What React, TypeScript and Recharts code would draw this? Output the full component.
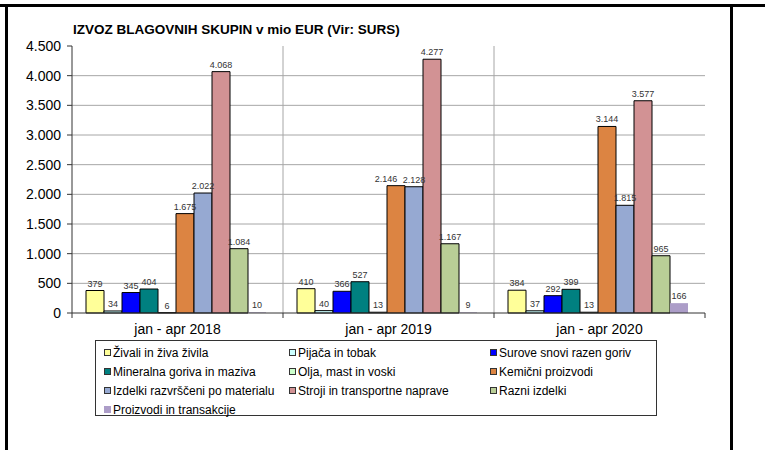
import React from 'react';
import { BarChart, Bar, XAxis, YAxis, CartesianGrid, Legend, LabelList } from 'recharts';

const categories = ['jan - apr 2018', 'jan - apr 2019', 'jan - apr 2020'];
const zivali = [379, 410, 384];
const pijaca = [34, 40, 37];
const surove = [345, 366, 292];
const mineralna = [404, 527, 399];
const olja = [6, 13, 13];
const kemicni = [1675, 2146, 3144];
const izdelki = [2022, 2128, 1815];
const stroji = [4068, 4277, 3577];
const razni = [1084, 1167, 965];
const proizvodi = [10, 9, 166];
const yTicks = [0, 500, 1000, 1500, 2000, 2500, 3000, 3500, 4000, 4500];
const gridValues = [500, 1000, 1500, 2000, 2500, 3000, 3500, 4000];

const seriesNames = [
  'Živali in živa živila',
  'Pijača in tobak',
  'Surove snovi razen goriv',
  'Mineralna goriva in maziva',
  'Olja, mast in voski',
  'Kemični proizvodi',
  'Izdelki razvrščeni po materialu',
  'Stroji in transportne naprave',
  'Razni izdelki',
  'Proizvodi in transakcije',
];
const seriesKeys = ['zivali', 'pijaca', 'surove', 'mineralna', 'olja', 'kemicni', 'izdelki', 'stroji', 'razni', 'proizvodi'];
const seriesValues = [zivali, pijaca, surove, mineralna, olja, kemicni, izdelki, stroji, razni, proizvodi];
const seriesColors = ['#FFFF99', '#CCFFFF', '#0000FF', '#008080', '#CCFFCC', '#DC8442', '#96A9D2', '#D29294', '#B9CE96', '#AC9DC8'];

const data = categories.map((cat, i) => {
  const row: any = { cat };
  seriesKeys.forEach((k, j) => { row[k] = seriesValues[j][i]; });
  return row;
});

const FONT = '"Liberation Sans", Arial, sans-serif';
const fmt = (v: any) => String(v).replace(/\B(?=(\d{3})+(?!\d))/g, '.');

// Label renderer: when a wide label would collide with the next series' label
// at nearly the same height, nudge it left (as the original chart does).
const makeLabel = (j: number) => (props: any) => {
  const { x, y, width, value, index } = props;
  let dx = 0;
  const next = seriesValues[j + 1];
  if (next && value >= 1000 && next[index] >= 1000 && Math.abs(next[index] - value) < 150) dx = -10;
  return (
    <text
      x={Number(x) + Number(width) / 2 + dx}
      y={Number(y) - 4}
      textAnchor="middle"
      fontSize={9}
      fill="#333"
      fontFamily={FONT}
    >
      {fmt(value)}
    </text>
  );
};

const CatTick = (props: any) => {
  const { x, y, payload, index } = props;
  const off = payload && typeof payload.offset === 'number' ? payload.offset : 0;
  const axisY = y - 5;
  return (
    <g>
      <line x1={x - off} x2={x - off} y1={axisY} y2={axisY + 5} stroke="#333" />
      {index === categories.length - 1 && (
        <line x1={x + off} x2={x + off} y1={axisY} y2={axisY + 5} stroke="#333" />
      )}
      <text x={x} y={axisY + 21} textAnchor="middle" fontSize={14} fill="#000" fontFamily={FONT}>
        {payload.value}
      </text>
    </g>
  );
};

const colLeft = [8, 193, 394];
const LegendContent = (props: any) => {
  const payload = [...(props.payload || [])].sort(
    (a: any, b: any) => seriesNames.indexOf(a.value) - seriesNames.indexOf(b.value)
  );
  return (
    <div style={{ position: 'relative', width: '100%', height: '100%' }}>
      {payload.map((p: any, i: number) => {
        const col = i % 3;
        const row = Math.floor(i / 3);
        const last = i === payload.length - 1;
        return (
          <div
            key={i}
            style={{
              position: 'absolute',
              left: colLeft[col],
              top: 2 + row * 19,
              height: 19,
              display: 'flex',
              alignItems: 'center',
              whiteSpace: 'nowrap',
              fontSize: 12,
              fontFamily: FONT,
              color: '#000',
            }}
          >
            <span
              style={{
                display: 'inline-block',
                width: 7,
                height: 7,
                boxSizing: 'border-box',
                background: p.color,
                border: last ? 'none' : '1px solid #333',
                marginRight: 2,
              }}
            />
            <span>{p.value}</span>
          </div>
        );
      })}
    </div>
  );
};

export default function App() {
  return (
    <div style={{ position: 'absolute', left: 0, top: 0, width: 765, height: 450, background: '#fff', fontFamily: FONT }}>
      <div style={{ position: 'absolute', left: 0, top: 4, width: 765, height: 3, background: '#000' }} />
      <div style={{ position: 'absolute', left: 5, top: 4, width: 3, height: 446, background: '#000' }} />
      <div style={{ position: 'absolute', left: 730, top: 4, width: 3, height: 446, background: '#000' }} />
      <div style={{ position: 'absolute', left: 73, top: 22, fontSize: 13.5, fontWeight: 'bold', color: '#000', fontFamily: FONT, whiteSpace: 'nowrap' }}>
        IZVOZ BLAGOVNIH SKUPIN v mio EUR (Vir: SURS)
      </div>
      <div style={{ position: 'absolute', left: 0, top: 0 }}>
        <BarChart
          width={765}
          height={450}
          data={data}
          margin={{ top: 46, right: 60, left: 0, bottom: 107 }}
          barCategoryGap={14}
          barGap={0}
        >
          <CartesianGrid
            stroke="#A6A6A6"
            horizontalValues={gridValues}
            verticalCoordinatesGenerator={({ offset }: any) => [offset.left + offset.width / 3, offset.left + (2 * offset.width) / 3]}
          />
          <XAxis
            dataKey="cat"
            height={30}
            tickLine={false}
            tickSize={5}
            tickMargin={0}
            axisLine={{ stroke: '#333' }}
            tick={<CatTick />}
            interval={0}
          />
          <YAxis
            width={72}
            domain={[0, 4500]}
            ticks={yTicks}
            interval={0}
            tickFormatter={fmt}
            tickSize={5}
            tickMargin={6}
            axisLine={{ stroke: '#333' }}
            tickLine={{ stroke: '#333' }}
            tick={{ fontSize: 14, fill: '#000', fontFamily: FONT }}
          />
          <Legend
            layout="horizontal"
            verticalAlign="middle"
            align="center"
            content={<LegendContent />}
            wrapperStyle={{ position: 'absolute', left: 95, top: 340, width: 562, height: 76, border: '1px solid #333', boxSizing: 'border-box', background: '#fff' }}
          />
          {seriesKeys.map((k, j) => (
            <Bar
              key={k}
              dataKey={k}
              name={seriesNames[j]}
              fill={seriesColors[j]}
              stroke={j === seriesKeys.length - 1 ? 'none' : '#000'}
              strokeWidth={1}
              isAnimationActive={false}
            >
              <LabelList dataKey={k} content={makeLabel(j)} />
            </Bar>
          ))}
        </BarChart>
      </div>
    </div>
  );
}
